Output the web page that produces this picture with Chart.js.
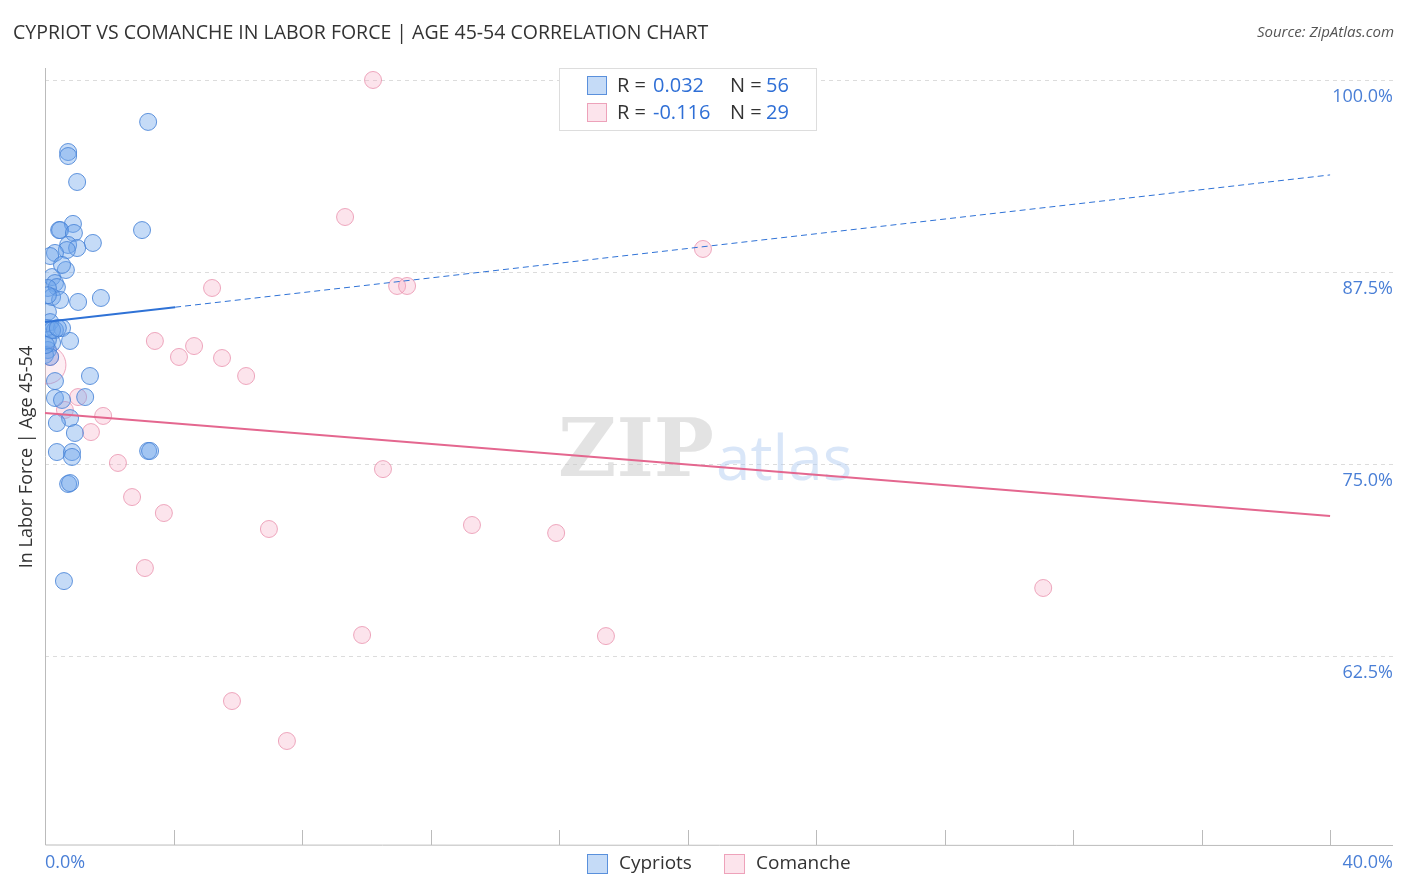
<!DOCTYPE html>
<html><head><meta charset="utf-8">
<script src="https://cdn.jsdelivr.net/npm/chart.js@4"></script>
<style>html,body{margin:0;padding:0;background:#fff;overflow:hidden}canvas{display:block}</style>
</head><body><canvas id="c" width="1406" height="892" style="width:1406px;height:892px"></canvas>
<script>
const cypriotX=[3.21,0.72,0.72,1.00,0.44,0.87,0.47,0.90,3.02,1.49,0.72,1.00,0.68,0.31,0.16,0.65,0.22,0.31,0.37,0.09,0.22,0.47,1.03,1.74,0.09,0.16,0.06,0.53,0.31,0.78,0.22,0.09,0.00,0.16,1.40,0.31,0.31,1.25,0.53,0.78,0.37,0.93,0.37,0.84,0.84,3.21,3.27,0.72,0.78,0.59,0.09,0.22,0.03,0.09,0.53,0.40];
const cypriotY=[97.27,95.31,95.05,93.36,90.23,90.63,90.23,90.04,90.23,89.39,89.26,89.06,88.93,88.74,88.54,87.63,87.17,86.78,86.52,86.46,85.87,85.68,85.55,85.81,84.90,84.24,83.85,83.85,83.72,83.01,82.88,82.42,82.10,81.97,80.73,80.40,79.30,79.36,79.17,77.99,77.67,77.02,75.78,75.78,75.46,75.85,75.85,73.70,73.76,67.38,83.07,83.72,82.75,85.99,87.96,83.85];
const comancheX=[10.21,9.34,20.48,5.20,10.96,11.27,3.42,4.64,4.17,5.51,6.26,0.16,1.03,0.62,1.81,1.43,2.27,10.52,2.71,3.70,6.97,13.29,15.91,3.11,31.07,9.87,17.46,5.82,7.53];
const comancheY=[100.0,91.08,89.00,86.46,86.59,86.59,83.01,82.68,81.97,81.90,80.73,81.97,79.36,78.52,78.13,77.08,75.07,74.67,72.85,71.81,70.77,71.03,70.51,68.23,66.93,63.87,63.80,59.57,56.97];
const bigComanche={x:0.06,y:81.45};
const cypTrend={x0:0,y0:84.24,xSolid:4.05,x1:40,y1:93.82};
const comTrend={x0:0,y0:78.32,x1:40,y1:71.61};
const yTicks=[100,87.5,75,62.5];
const yTickLabels=['100.0%','87.5%','75.0%','62.5%'];
const xTicks=[0,4,8,12,16,20,24,28,32,36,40];
const legendRows=[{r:'0.032',n:'56'},{r:'-0.116',n:'29'}];
const seriesNames=['Cypriots','Comanche'];

const blueF='rgba(110,165,235,0.4)',blueB='rgba(70,130,215,0.85)';
const pinkF='rgba(245,170,195,0.32)',pinkB='rgba(232,140,170,0.75)';
const ty=(t,x)=>t.y0+(t.y1-t.y0)*(x-t.x0)/(t.x1-t.x0);
const RIGHT=1393;

const deco={id:'deco',
beforeDatasetsDraw(ch){const c=ch.ctx,a=ch.chartArea,xs=ch.scales.x,ys=ch.scales.y;c.save();
 c.strokeStyle='#dcdcdc';c.lineWidth=1;c.setLineDash([4,4]);
 yTicks.forEach(v=>{const y=Math.round(ys.getPixelForValue(v))+0.5;c.beginPath();c.moveTo(a.left,y);c.lineTo(RIGHT,y);c.stroke();});
 c.setLineDash([]);c.strokeStyle='#bbb';
 c.beginPath();c.moveTo(a.left+0.5,a.top);c.lineTo(a.left+0.5,a.bottom);c.lineTo(RIGHT,a.bottom+0.5);c.stroke();
 xTicks.forEach(v=>{const x=Math.round(xs.getPixelForValue(v))+0.5;c.beginPath();c.moveTo(x,a.bottom);c.lineTo(x,a.bottom-15);c.stroke();});
 c.font='bold 80px "DejaVu Serif", serif';c.fillStyle='rgba(200,200,200,0.5)';c.textBaseline='middle';c.textAlign='right';c.fillText('ZIP',714,455);
 c.font='62px "Open Sans", sans-serif';c.fillStyle='rgba(170,200,240,0.45)';c.textAlign='left';c.fillText('atlas',716,462);
 c.restore();},
afterDatasetsDraw(ch){const c=ch.ctx,xs=ch.scales.x,ys=ch.scales.y;c.save();
 c.lineWidth=2;c.strokeStyle='#2f72d6';c.beginPath();c.moveTo(xs.getPixelForValue(cypTrend.x0),ys.getPixelForValue(cypTrend.y0));c.lineTo(xs.getPixelForValue(cypTrend.xSolid),ys.getPixelForValue(ty(cypTrend,cypTrend.xSolid)));c.stroke();
 c.lineWidth=1;c.setLineDash([6,4]);c.beginPath();c.moveTo(xs.getPixelForValue(cypTrend.xSolid),ys.getPixelForValue(ty(cypTrend,cypTrend.xSolid)));c.lineTo(xs.getPixelForValue(cypTrend.x1),ys.getPixelForValue(cypTrend.y1));c.stroke();
 c.setLineDash([]);c.lineWidth=2;c.strokeStyle='#e4678f';c.beginPath();c.moveTo(xs.getPixelForValue(comTrend.x0),ys.getPixelForValue(comTrend.y0));c.lineTo(xs.getPixelForValue(comTrend.x1),ys.getPixelForValue(comTrend.y1));c.stroke();
 c.font='18px "Open Sans", sans-serif';c.fillStyle='#4a7fd6';c.textAlign='right';c.textBaseline='middle';
 yTicks.forEach((v,i)=>c.fillText(yTickLabels[i],1393,ys.getPixelForValue(v)+17));
 c.textAlign='left';c.fillText('0.0%',45,863);c.textAlign='right';c.fillText('40.0%',1393,863);
 c.fillStyle='#333';c.textAlign='left';c.font='19.5px "Open Sans", sans-serif';c.fillText('CYPRIOT VS COMANCHE IN LABOR FORCE | AGE 45-54 CORRELATION CHART',13,33);
 c.font='italic 15px "Open Sans", sans-serif';c.fillStyle='#555';c.textAlign='right';c.fillText('Source: ZipAtlas.com',1394,33);
 c.save();c.translate(27,457);c.rotate(-Math.PI/2);c.textAlign='center';c.font='18px "Open Sans", sans-serif';c.fillStyle='#333';c.fillText('In Labor Force | Age 45-54',0,0);c.restore();
 c.fillStyle='#fff';c.strokeStyle='#ddd';c.lineWidth=1;c.fillRect(559.5,68.5,257,62);c.strokeRect(559.5,68.5,257,62);
 [[blueF,blueB],[pinkF,pinkB]].forEach((col,i)=>{const y=76+i*27;c.fillStyle=col[0];c.strokeStyle=col[1];c.fillRect(587,y,20,19);c.strokeRect(587.5,y+0.5,19,18);
  c.font='20px "Open Sans", sans-serif';c.textAlign='left';c.fillStyle='#333';c.fillText('R = ',617,y+10);c.fillStyle='#2f6fd6';c.fillText(legendRows[i].r,653,y+10);
  c.fillStyle='#333';c.fillText('N = ',730,y+10);c.fillStyle='#2f6fd6';c.fillText(legendRows[i].n,766,y+10);});
 [[blueF,blueB,587],[pinkF,pinkB,724]].forEach((col,i)=>{c.fillStyle=col[0];c.strokeStyle=col[1];c.fillRect(col[2],854,21,20);c.strokeRect(col[2]+0.5,854.5,20,19);
  c.fillStyle='#333';c.font='19px "Open Sans", sans-serif';c.textAlign='left';c.fillText(seriesNames[i],col[2]+32,864);});
 c.restore();}};

new Chart(document.getElementById('c'),{type:'scatter',
data:{datasets:[
 {data:cypriotX.map((x,i)=>({x,y:cypriotY[i]})),backgroundColor:blueF,borderColor:blueB,borderWidth:1,pointRadius:8.5},
 {data:comancheX.map((x,i)=>({x,y:comancheY[i]})),backgroundColor:pinkF,borderColor:pinkB,borderWidth:1,pointRadius:8.5},
 {data:[bigComanche],backgroundColor:'rgba(245,170,195,0.2)',borderColor:pinkB,borderWidth:1,pointRadius:19}]},
options:{responsive:false,animation:false,devicePixelRatio:1,
 layout:{padding:{left:45,right:13,top:68,bottom:47}},
 plugins:{legend:{display:false},tooltip:{enabled:false}},
 scales:{x:{display:false,min:0,max:41.74},y:{display:false,min:50.2,max:100.78}}},
plugins:[deco]});
</script></body></html>
